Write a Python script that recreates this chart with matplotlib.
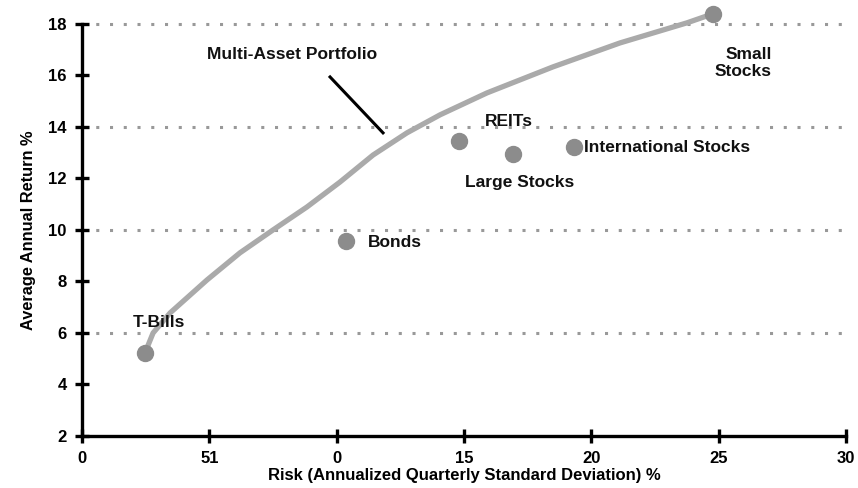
import numpy as np
import matplotlib
matplotlib.use("Agg")
import matplotlib.pyplot as plt

# asset points (risk %, return %)
assets = ["T-Bills", "Bonds", "REITs", "Large Stocks", "International Stocks", "Small Stocks"]
risk = [2.47, 10.37, 14.8, 16.92, 19.3, 24.77]
ret = [5.22, 9.57, 13.46, 12.95, 13.22, 18.39]

# multi-asset portfolio frontier
front_risk = [2.47, 2.79, 3.46, 4.91, 6.2, 7.5, 8.83, 10.13, 11.43, 12.76,
              14.06, 15.9, 18.49, 21.12, 23.75, 24.77]
front_ret = [5.22, 6.0, 6.78, 8.06, 9.11, 10.0, 10.89, 11.86, 12.91, 13.77,
             14.47, 15.32, 16.33, 17.26, 18.04, 18.39]

xticks = [0, 5, 10, 15, 20, 25, 30]
xticklabels = ["0", "51", "0", "15", "20", "25", "30"]
yticks = [2, 4, 6, 8, 10, 12, 14, 16, 18]
grid_y = [6, 10, 14, 18]

plt.rcParams['font.family'] = ['Liberation Sans', 'DejaVu Sans']
plt.rcParams['font.weight'] = 'bold'

fig = plt.figure(figsize=(8.58, 4.88), dpi=100)
ax = fig.add_axes([0.0956, 0.1066, 0.8904, 0.8444])

for g in grid_y:
    ax.plot([0, 30], [g, g], color="#999999", linestyle=(0, (1, 3.5)),
            linewidth=2.2, zorder=1, clip_on=False)

ax.plot(front_risk, front_ret, color="#aaaaaa", linewidth=3.8, zorder=2,
        solid_capstyle="round", solid_joinstyle="round", clip_on=False)
ax.plot(risk, ret, linestyle="none", marker="o", markersize=11.5,
        color="#8c8c8c", zorder=3, clip_on=False)

lab = dict(fontsize=12.5, fontweight="bold", color="#111111")
ax.text(2.0, 6.39, "T-Bills", ha="left", va="center", **lab)
ax.text(11.23, 9.53, "Bonds", ha="left", va="center", **lab)
ax.text(16.76, 14.23, "REITs", ha="center", va="center", **lab)
ax.text(17.2, 11.83, "Large Stocks", ha="center", va="center", **lab)
ax.text(19.71, 13.22, "International Stocks", ha="left", va="center", **lab)
ax.text(27.09, 16.49, "Small\nStocks", ha="right", va="center", linespacing=1.15, **lab)
ax.text(8.24, 16.83, "Multi-Asset Portfolio", ha="center", va="center", **lab)
ax.plot([9.74, 11.82], [15.94, 13.77], color="black", linewidth=2.2, zorder=4)

ax.set_xlim(0, 30)
ax.set_ylim(2, 18)
ax.set_xticks(xticks)
ax.set_xticklabels(xticklabels)
ax.set_yticks(yticks)
for s in ["top", "right"]:
    ax.spines[s].set_visible(False)
for s in ["left", "bottom"]:
    ax.spines[s].set_linewidth(2.4)
ax.tick_params(direction="inout", length=10, width=2.4, labelsize=12, pad=6)
for t in ax.get_xticklabels() + ax.get_yticklabels():
    t.set_fontweight("bold")

ax.set_xlabel("Risk (Annualized Quarterly Standard Deviation) %", fontsize=12,
              fontweight="bold", labelpad=1)
ax.set_ylabel("Average Annual Return %", fontsize=11.8, fontweight="bold", labelpad=9)

fig.savefig("out.png", dpi=100)
